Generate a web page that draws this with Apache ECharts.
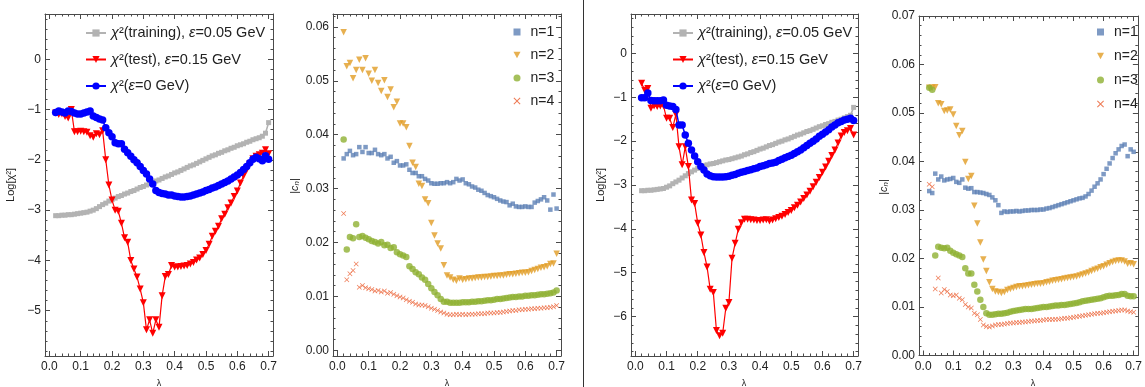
<!DOCTYPE html>
<html>
<head>
<meta charset="utf-8">
<script src="https://cdn.jsdelivr.net/npm/echarts@6/dist/echarts.min.js"></script>
<style>
  html, body { margin: 0; padding: 0; background: #fff; }
  #main { width: 1145px; height: 387px; }
</style>
</head>
<body>
<div id="main"></div>
<script>
// lambda grid shared by every series
var lambdaVals = [0.02,0.03,0.04,0.05,0.06,0.07,0.08,0.09,0.10,0.11,
  0.12,0.13,0.14,0.15,0.16,0.17,0.18,0.19,0.20,0.21,
  0.22,0.23,0.24,0.25,0.26,0.27,0.28,0.29,0.30,0.31,
  0.32,0.33,0.34,0.35,0.36,0.37,0.38,0.39,0.40,0.41,
  0.42,0.43,0.44,0.45,0.46,0.47,0.48,0.49,0.50,0.51,
  0.52,0.53,0.54,0.55,0.56,0.57,0.58,0.59,0.60,0.61,
  0.62,0.63,0.64,0.65,0.66,0.67,0.68,0.69,0.70];

// ---- left half: Log[chi^2] panel ----
var chiTrainA = [-3.11,-3.11,-3.10,-3.10,-3.09,-3.09,-3.08,-3.07,-3.06,-3.05,
  -3.04,-3.02,-3.00,-2.97,-2.93,-2.89,-2.86,-2.82,-2.79,-2.76,
  -2.73,-2.71,-2.68,-2.66,-2.63,-2.61,-2.58,-2.55,-2.53,-2.50,
  -2.47,-2.45,-2.42,-2.40,-2.37,-2.34,-2.32,-2.29,-2.26,-2.24,
  -2.21,-2.18,-2.15,-2.12,-2.10,-2.07,-2.04,-2.01,-1.98,-1.95,
  -1.92,-1.90,-1.87,-1.85,-1.82,-1.80,-1.77,-1.75,-1.72,-1.70,
  -1.68,-1.65,-1.63,-1.60,-1.58,-1.56,-1.53,-1.47,-1.26];
var chiTestA = [-1.07,-1.10,-1.09,-1.14,-1.17,-1.00,-1.44,-1.44,-1.43,-1.44,
  -1.45,-1.52,-1.55,-1.48,-1.50,-1.42,-2.00,-2.50,-2.80,-3.00,
  -3.02,-3.26,-3.55,-3.64,-4.00,-4.17,-4.33,-4.57,-4.84,-5.38,
  -5.18,-5.45,-5.18,-5.33,-4.70,-4.32,-4.28,-4.10,-4.13,-4.13,
  -4.12,-4.11,-4.10,-4.07,-4.04,-3.99,-3.95,-3.88,-3.80,-3.68,
  -3.52,-3.42,-3.32,-3.17,-3.08,-2.95,-2.86,-2.73,-2.62,-2.46,
  -2.32,-2.20,-2.08,-1.98,-1.93,-1.90,-1.87,-1.80,-1.88];
var chiExactA = [-1.06,-1.03,-1.05,-1.07,-1.03,-1.04,-1.07,-1.09,-1.09,-1.07,
  -1.05,-1.03,-1.13,-1.16,-1.19,-1.21,-1.36,-1.46,-1.54,-1.66,
  -1.68,-1.68,-1.79,-1.86,-1.93,-2.00,-2.06,-2.13,-2.21,-2.28,
  -2.38,-2.48,-2.61,-2.65,-2.67,-2.68,-2.70,-2.70,-2.72,-2.73,
  -2.74,-2.74,-2.73,-2.72,-2.70,-2.68,-2.66,-2.64,-2.61,-2.59,
  -2.56,-2.54,-2.51,-2.48,-2.45,-2.42,-2.38,-2.34,-2.30,-2.25,
  -2.19,-2.13,-2.06,-1.99,-1.95,-1.98,-2.02,-1.92,-1.99];

// ---- left half: |c_n| panel ----
var cn1A = [0.0356,0.0364,0.0370,0.0362,0.0364,0.0377,0.0368,0.0377,0.0366,0.0366,
  0.0372,0.0364,0.0362,0.0364,0.0356,0.0359,0.0348,0.0351,0.0343,0.0343,
  0.0345,0.0335,0.0329,0.0329,0.0323,0.0323,0.0318,0.0315,0.0310,0.0309,
  0.0309,0.0310,0.0310,0.0312,0.0310,0.0312,0.0318,0.0315,0.0317,0.0310,
  0.0308,0.0304,0.0302,0.0298,0.0296,0.0292,0.0288,0.0286,0.0284,0.0281,
  0.0278,0.0276,0.0275,0.0269,0.0272,0.0267,0.0266,0.0266,0.0267,0.0266,
  0.0266,0.0274,0.0277,0.0280,0.0284,0.0278,0.0261,0.0289,0.0263];
var cn2A = [0.0590,0.0527,0.0533,0.0505,0.0520,0.0539,0.0520,0.0542,0.0513,0.0500,
  0.0520,0.0496,0.0481,0.0501,0.0470,0.0484,0.0451,0.0461,0.0421,0.0421,
  0.0414,0.0379,0.0348,0.0340,0.0309,0.0305,0.0280,0.0273,0.0236,0.0213,
  0.0198,0.0189,0.0158,0.0139,0.0135,0.0131,0.0129,0.0133,0.0131,0.0132,
  0.0133,0.0133,0.0134,0.0135,0.0135,0.0136,0.0136,0.0137,0.0138,0.0138,
  0.0139,0.0139,0.0140,0.0141,0.0141,0.0142,0.0143,0.0144,0.0144,0.0145,
  0.0147,0.0149,0.0151,0.0153,0.0154,0.0156,0.0160,0.0161,0.0179];
var cn3A = [0.0391,0.0187,0.0210,0.0208,0.0234,0.0210,0.0212,0.0209,0.0206,0.0203,
  0.0201,0.0198,0.0201,0.0195,0.0196,0.0190,0.0191,0.0182,0.0178,0.0176,
  0.0173,0.0156,0.0151,0.0145,0.0141,0.0135,0.0131,0.0123,0.0115,0.0108,
  0.0102,0.0095,0.0090,0.0090,0.0088,0.0088,0.0088,0.0088,0.0089,0.0089,
  0.0089,0.0090,0.0090,0.0091,0.0091,0.0092,0.0093,0.0093,0.0094,0.0095,
  0.0095,0.0096,0.0097,0.0098,0.0099,0.0099,0.0100,0.0100,0.0101,0.0101,
  0.0102,0.0102,0.0103,0.0104,0.0104,0.0105,0.0106,0.0107,0.0111];
var cn4A = [0.0254,0.0131,0.0142,0.0148,0.0160,0.0117,0.0120,0.0116,0.0114,0.0113,
  0.0110,0.0111,0.0108,0.0110,0.0106,0.0107,0.0104,0.0101,0.0099,0.0097,
  0.0094,0.0091,0.0089,0.0086,0.0084,0.0084,0.0083,0.0081,0.0078,0.0076,
  0.0074,0.0071,0.0069,0.0067,0.0066,0.0066,0.0067,0.0066,0.0067,0.0066,
  0.0067,0.0067,0.0067,0.0068,0.0068,0.0068,0.0069,0.0069,0.0069,0.0070,
  0.0070,0.0071,0.0072,0.0073,0.0074,0.0074,0.0075,0.0075,0.0076,0.0076,
  0.0077,0.0077,0.0078,0.0078,0.0079,0.0079,0.0080,0.0081,0.0083];

// ---- right half: Log[chi^2] panel ----
var chiTrainB = [-3.13,-3.13,-3.12,-3.12,-3.11,-3.10,-3.09,-3.08,-3.05,-3.02,
  -2.97,-2.93,-2.89,-2.84,-2.79,-2.74,-2.70,-2.66,-2.62,-2.59,
  -2.56,-2.54,-2.52,-2.51,-2.49,-2.47,-2.45,-2.43,-2.42,-2.40,
  -2.38,-2.36,-2.34,-2.31,-2.29,-2.26,-2.24,-2.21,-2.18,-2.16,
  -2.13,-2.10,-2.08,-2.05,-2.02,-2.00,-1.97,-1.95,-1.92,-1.89,
  -1.86,-1.84,-1.81,-1.78,-1.76,-1.73,-1.70,-1.67,-1.65,-1.62,
  -1.60,-1.57,-1.55,-1.52,-1.50,-1.47,-1.44,-1.41,-1.23];
var chiTestB = [-0.68,-0.84,-0.80,-1.25,-1.20,-1.21,-1.20,-1.19,-1.48,-1.48,
  -1.69,-1.39,-2.13,-2.54,-2.13,-2.58,-3.34,-3.42,-3.87,-4.14,
  -4.54,-4.87,-5.38,-5.45,-6.32,-6.44,-6.38,-5.81,-5.68,-4.67,
  -4.33,-4.01,-3.86,-3.78,-3.78,-3.79,-3.80,-3.81,-3.81,-3.80,
  -3.79,-3.82,-3.80,-3.77,-3.74,-3.71,-3.67,-3.63,-3.58,-3.52,
  -3.46,-3.39,-3.31,-3.23,-3.14,-3.04,-2.94,-2.83,-2.71,-2.59,
  -2.46,-2.33,-2.20,-2.04,-1.88,-1.80,-1.76,-1.71,-1.86];
var chiExactB = [-1.01,-1.01,-0.90,-1.07,-1.08,-1.08,-1.08,-1.06,-1.18,-1.20,
  -1.21,-1.28,-1.63,-1.63,-1.86,-2.05,-2.20,-2.34,-2.47,-2.58,
  -2.66,-2.75,-2.79,-2.81,-2.82,-2.82,-2.82,-2.81,-2.80,-2.78,
  -2.76,-2.73,-2.71,-2.69,-2.67,-2.65,-2.63,-2.61,-2.58,-2.56,
  -2.54,-2.51,-2.50,-2.48,-2.44,-2.41,-2.38,-2.35,-2.32,-2.28,
  -2.24,-2.20,-2.15,-2.10,-2.05,-2.00,-1.95,-1.89,-1.84,-1.79,
  -1.74,-1.68,-1.63,-1.58,-1.55,-1.52,-1.50,-1.48,-1.53];

// ---- right half: |c_n| panel ----
var cn1B = [0.0339,0.0335,0.0375,0.0363,0.0369,0.0361,0.0363,0.0364,0.0366,0.0358,
  0.0356,0.0363,0.0346,0.0344,0.0345,0.0337,0.0337,0.0336,0.0335,0.0333,
  0.0331,0.0326,0.0320,0.0310,0.0294,0.0297,0.0296,0.0297,0.0297,0.0298,
  0.0297,0.0298,0.0299,0.0299,0.0300,0.0300,0.0300,0.0301,0.0301,0.0303,
  0.0304,0.0306,0.0308,0.0310,0.0312,0.0314,0.0316,0.0318,0.0320,0.0322,
  0.0324,0.0325,0.0328,0.0333,0.0340,0.0348,0.0355,0.0363,0.0374,0.0385,
  0.0396,0.0407,0.0417,0.0425,0.0432,0.0435,0.0411,0.0425,0.0420];
var cn2B = [0.0552,0.0552,0.0553,0.0520,0.0518,0.0504,0.0505,0.0507,0.0497,0.0473,
  0.0454,0.0463,0.0399,0.0364,0.0370,0.0309,0.0272,0.0233,0.0198,0.0174,
  0.0151,0.0137,0.0132,0.0131,0.0129,0.0131,0.0135,0.0137,0.0139,0.0141,
  0.0143,0.0143,0.0144,0.0145,0.0146,0.0147,0.0148,0.0148,0.0149,0.0151,
  0.0152,0.0154,0.0155,0.0156,0.0157,0.0159,0.0160,0.0161,0.0162,0.0163,
  0.0165,0.0167,0.0169,0.0171,0.0174,0.0177,0.0179,0.0182,0.0184,0.0187,
  0.0190,0.0193,0.0195,0.0196,0.0196,0.0194,0.0189,0.0190,0.0188];
var cn3B = [0.0552,0.0548,0.0206,0.0224,0.0222,0.0221,0.0222,0.0216,0.0212,0.0209,
  0.0206,0.0203,0.0180,0.0169,0.0169,0.0146,0.0132,0.0115,0.0100,0.0087,
  0.0084,0.0084,0.0085,0.0086,0.0086,0.0087,0.0088,0.0090,0.0092,0.0093,
  0.0094,0.0095,0.0096,0.0096,0.0096,0.0097,0.0098,0.0099,0.0100,0.0100,
  0.0101,0.0102,0.0103,0.0103,0.0104,0.0104,0.0105,0.0106,0.0107,0.0108,
  0.0110,0.0112,0.0113,0.0114,0.0115,0.0116,0.0117,0.0118,0.0120,0.0122,
  0.0123,0.0123,0.0124,0.0125,0.0127,0.0127,0.0123,0.0122,0.0122];
var cn4B = [0.0353,0.0348,0.0137,0.0160,0.0129,0.0136,0.0132,0.0125,0.0123,0.0125,
  0.0118,0.0115,0.0105,0.0100,0.0098,0.0087,0.0084,0.0074,0.0063,0.0060,
  0.0059,0.0061,0.0063,0.0064,0.0064,0.0065,0.0066,0.0067,0.0067,0.0068,
  0.0068,0.0069,0.0069,0.0070,0.0071,0.0071,0.0072,0.0072,0.0073,0.0074,
  0.0074,0.0074,0.0075,0.0075,0.0076,0.0077,0.0077,0.0078,0.0079,0.0080,
  0.0081,0.0082,0.0083,0.0084,0.0085,0.0086,0.0087,0.0087,0.0088,0.0089,
  0.0090,0.0091,0.0092,0.0093,0.0094,0.0094,0.0092,0.0090,0.0089];

// tick labels
var lambdaTicks = [0.0, 0.1, 0.2, 0.3, 0.4, 0.5, 0.6, 0.7];
var chiTicksA = [-5, -4, -3, -2, -1, 0];
var chiTicksB = [-6, -5, -4, -3, -2, -1, 0];
var cnTicksA = [0.00, 0.01, 0.02, 0.03, 0.04, 0.05, 0.06];
var cnTicksB = [0.00, 0.01, 0.02, 0.03, 0.04, 0.05, 0.06, 0.07];

var chiNames = ['train', 'test', 'exact'];
var cnNames = ['n=1', 'n=2', 'n=3', 'n=4'];
var legendText = {
  train: '{i|χ}²(training), {i|ε}=0.05 GeV',
  test: '{i|χ}²(test), {i|ε}=0.15 GeV',
  exact: '{i|χ}²({i|ε}=0 GeV)'
};

var FONT = 'Liberation Sans, Arial, sans-serif';
var FRAME = '#4a4a4a';
var TEXT = '#222';

function pairs(ys) {
  return lambdaVals.map(function (x, i) { return [x, ys[i]]; });
}
function steps(lo, hi, step) {
  var out = [];
  var n = Math.round((hi - lo) / step);
  for (var i = 0; i <= n; i++) out.push(+(lo + i * step).toFixed(6));
  return out;
}
function minusFmt(v) { return (v < 0 ? '\u2212' : '') + Math.abs(v); }

// labelled major + minor axis on one side, unlabelled copies on the opposite side
function frameAxes(gi, isX, min, max, major, minor, fmt) {
  var pos = isX ? ['bottom', 'top'] : ['left', 'right'];
  var out = [];
  [0, 1].forEach(function (side) {
    out.push({
      gridIndex: gi, type: 'value', position: pos[side], min: min, max: max,
      axisLine: { show: true, onZero: false, lineStyle: { color: FRAME, width: 1 } },
      axisTick: { show: true, inside: true, length: 5, customValues: major,
        lineStyle: { color: FRAME, width: 1 } },
      axisLabel: side === 0 ? { show: true, customValues: major, formatter: fmt,
        color: TEXT, fontSize: 12, fontFamily: FONT, margin: isX ? 5 : 4 } : { show: false },
      splitLine: { show: false }
    });
    out.push({
      gridIndex: gi, type: 'value', position: pos[side], min: min, max: max,
      axisLine: { show: false, onZero: false },
      axisTick: { show: true, inside: true, length: 2.5, customValues: minor,
        lineStyle: { color: FRAME, width: 1 } },
      axisLabel: { show: false },
      splitLine: { show: false }
    });
  });
  return out;
}

var XMIN = -0.014, XMAX = 0.714;
var xFmt = function (v) { return v.toFixed(1); };
var cnFmt = function (v) { return v.toFixed(2); };
var xMinor = steps(0, 0.7, 0.02);

var grids = [
  { left: 45, top: 14, width: 228, height: 342 },
  { left: 333, top: 14, width: 228, height: 342 },
  { left: 631, top: 14, width: 227, height: 342 },
  { left: 919, top: 16, width: 228, height: 339.5 }
];

var xAxes = [], yAxes = [];
for (var g = 0; g < 4; g++) xAxes = xAxes.concat(frameAxes(g, true, XMIN, XMAX, lambdaTicks, xMinor, xFmt));
yAxes = yAxes.concat(frameAxes(0, false, -5.9, 0.9, chiTicksA, steps(-5.8, 0.8, 0.2), minusFmt));
yAxes = yAxes.concat(frameAxes(1, false, -0.00106, 0.0624, cnTicksA, steps(0, 0.062, 0.002), cnFmt));
yAxes = yAxes.concat(frameAxes(2, false, -6.9, 0.9, chiTicksB, steps(-6.8, 0.8, 0.2), minusFmt));
yAxes = yAxes.concat(frameAxes(3, false, 0, 0.07, cnTicksB, steps(0, 0.07, 0.002), cnFmt));

var crossPath = 'path://M0,1L1,0L5,4L9,0L10,1L6,5L10,9L9,10L5,6L1,10L0,9L4,5Z';
var downTri = 'path://M0,0L10,0L5,9Z';

function chiSeries(gi, train, test, exact) {
  var ax = gi * 4;
  return [
    { name: 'train', type: 'line', xAxisIndex: ax, yAxisIndex: ax, data: pairs(train),
      symbol: 'rect', symbolSize: 5, showAllSymbol: true,
      itemStyle: { color: '#b3b3b3' }, lineStyle: { color: '#b3b3b3', width: 1.6 }, z: 2 },
    { name: 'test', type: 'line', xAxisIndex: ax, yAxisIndex: ax, data: pairs(test),
      symbol: downTri, symbolSize: 7, showAllSymbol: true,
      itemStyle: { color: '#ff0000' }, lineStyle: { color: '#ff0000', width: 1.2 }, z: 3 },
    { name: 'exact', type: 'line', xAxisIndex: ax, yAxisIndex: ax, data: pairs(exact),
      symbol: 'circle', symbolSize: 7.5, showAllSymbol: true,
      itemStyle: { color: '#0000ff' }, lineStyle: { color: '#0000ff', width: 1.5 }, z: 4 }
  ];
}
function cnSeries(gi, c1, c2, c3, c4) {
  var ax = gi * 4;
  return [
    { name: 'n=1', type: 'scatter', xAxisIndex: ax, yAxisIndex: ax, data: pairs(c1),
      symbol: 'rect', symbolSize: 4.5, itemStyle: { color: '#5e81b5' } },
    { name: 'n=2', type: 'scatter', xAxisIndex: ax, yAxisIndex: ax, data: pairs(c2),
      symbol: downTri, symbolSize: 6.5, itemStyle: { color: '#e19c24' } },
    { name: 'n=3', type: 'scatter', xAxisIndex: ax, yAxisIndex: ax, data: pairs(c3),
      symbol: 'circle', symbolSize: 6.5, itemStyle: { color: '#8fb032' } },
    { name: 'n=4', type: 'scatter', xAxisIndex: ax, yAxisIndex: ax, data: pairs(c4),
      symbol: crossPath, symbolSize: 5, itemStyle: { color: '#eb6235', opacity: 0.85 } }
  ];
}

function legendStyle(size) {
  return {
    fontSize: size, fontFamily: FONT, color: TEXT, lineHeight: 16,
    rich: { i: { fontSize: size, fontFamily: FONT, color: TEXT, fontStyle: 'italic', lineHeight: 16 } }
  };
}
function chiLegend(left) {
  return { data: chiNames, left: left, top: 25, padding: 0, orient: 'vertical', selectedMode: false,
    itemWidth: 20, itemHeight: 9, itemGap: 10.5, textStyle: legendStyle(14.5),
    formatter: function (n) { return legendText[n]; } };
}
function cnLegend(left, gap) {
  var ts = Object.assign(legendStyle(14), { padding: [0, 0, 0, 5] });
  return { data: cnNames, left: left, top: 24, padding: 0, orient: 'vertical', selectedMode: false,
    itemWidth: 7, itemHeight: 7, itemGap: gap, textStyle: ts };
}

function rotLabel(x, y, text, rich) {
  return { type: 'text', x: x, y: y, rotation: Math.PI / 2,
    style: { text: text, font: '11px ' + FONT, fill: TEXT, rich: rich || {},
      align: 'center', verticalAlign: 'middle', textAlign: 'center', textVerticalAlign: 'middle' } };
}
function lamLabel(x) {
  return { type: 'text', x: x, y: 383.5,
    style: { text: 'λ', font: '9px ' + FONT, fill: TEXT,
      align: 'center', verticalAlign: 'middle', textAlign: 'center', textVerticalAlign: 'middle' } };
}
var cnRich = {
  c: { fontSize: 11, fontFamily: FONT, fontStyle: 'italic', fill: TEXT, color: TEXT },
  s: { fontSize: 8, fontFamily: FONT, fontStyle: 'italic', fill: TEXT, color: TEXT, verticalAlign: 'bottom' }
};

var chart = echarts.init(document.getElementById('main'), null, { renderer: 'canvas' });
chart.setOption({
  animation: false,
  backgroundColor: '#ffffff',
  grid: grids,
  xAxis: xAxes,
  yAxis: yAxes,
  legend: [chiLegend(85), cnLegend(513.5, 7), chiLegend(672), cnLegend(1097, 8)],
  series: []
    .concat(chiSeries(0, chiTrainA, chiTestA, chiExactA))
    .concat(cnSeries(1, cn1A, cn2A, cn3A, cn4A))
    .concat(chiSeries(2, chiTrainB, chiTestB, chiExactB))
    .concat(cnSeries(3, cn1B, cn2B, cn3B, cn4B)),
  graphic: [
    { type: 'line', shape: { x1: 583.5, y1: 0, x2: 583.5, y2: 387 },
      style: { stroke: '#333', lineWidth: 1 } },
    rotLabel(11, 185, 'Log[χ²]'),
    rotLabel(601, 185, 'Log[χ²]'),
    rotLabel(295, 186, '|{c|c}{s|n}|', cnRich),
    rotLabel(884, 187, '|{c|c}{s|n}|', cnRich),
    lamLabel(159), lamLabel(447), lamLabel(744), lamLabel(1033)
  ]
});
</script>
</body>
</html>
